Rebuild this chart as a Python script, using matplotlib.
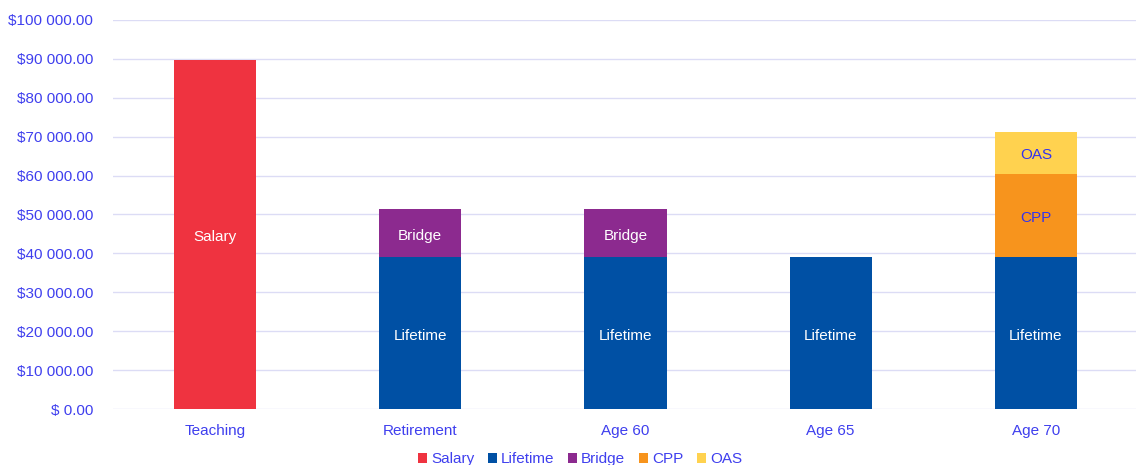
import numpy as np
import matplotlib.pyplot as plt
from matplotlib.ticker import FuncFormatter

plt.rcParams['font.family'] = ['Liberation Sans', 'DejaVu Sans']

categories = ['Teaching', 'Retirement', 'Age 60', 'Age 65', 'Age 70']
series = ['Salary', 'Lifetime', 'Bridge', 'CPP', 'OAS']
salary = [89700, 0, 0, 0, 0]
lifetime = [0, 39000, 39000, 39000, 39000]
bridge = [0, 12500, 12500, 0, 0]
cpp = [0, 0, 0, 0, 21500]
oas = [0, 0, 0, 0, 10800]

colors = ['#ef3340', '#0050a4', '#8c2a8f', '#f7941d', '#ffd24f']
label_colors = ['white', 'white', 'white', '#3333ee', '#3333ee']
text_blue = '#3f3fee'
fs = 11

fig = plt.figure(figsize=(11.36, 4.65), dpi=100)
ax = fig.add_axes([112.5 / 1136, 56 / 465, 1023.5 / 1136, 389 / 465])

x = np.arange(len(categories))
bottom = np.zeros(len(categories))
for name, vals, c, lc in zip(series, [salary, lifetime, bridge, cpp, oas], colors, label_colors):
    vals = np.array(vals, dtype=float)
    ax.bar(x, vals, width=0.4, bottom=bottom, color=c, label=name, zorder=3)
    for xi, v, b in zip(x, vals, bottom):
        if v > 0:
            ax.text(xi, b + v / 2 - 700, name, ha='center', va='center', color=lc,
                    fontsize=fs, zorder=4)
    bottom += vals

ax.set_xlim(-0.5, 4.488)
ax.set_ylim(0, 100000)
ax.set_yticks(np.arange(0, 100001, 10000))
ax.yaxis.set_major_formatter(FuncFormatter(
    lambda v, p: '$ 0.00' if v == 0 else '$' + f'{v:,.2f}'.replace(',', ' ')))
ax.set_xticks(x)
ax.set_xticklabels(categories)
ax.tick_params(axis='both', length=0, labelsize=fs, labelcolor=text_blue)
ax.tick_params(axis='y', pad=14)
ax.tick_params(axis='x', pad=11)
ax.grid(axis='y', color='#dcdcf5', linewidth=1, zorder=0)
for s in ax.spines.values():
    s.set_visible(False)

leg = fig.legend(loc='lower center', bbox_to_anchor=(580 / 1136, -0.032), ncol=5,
                 frameon=False, fontsize=fs, handlelength=0.6, handleheight=0.6,
                 handletextpad=0.25, columnspacing=0.9)
for t in leg.get_texts():
    t.set_color(text_blue)

fig.savefig('out.png', dpi=100)
